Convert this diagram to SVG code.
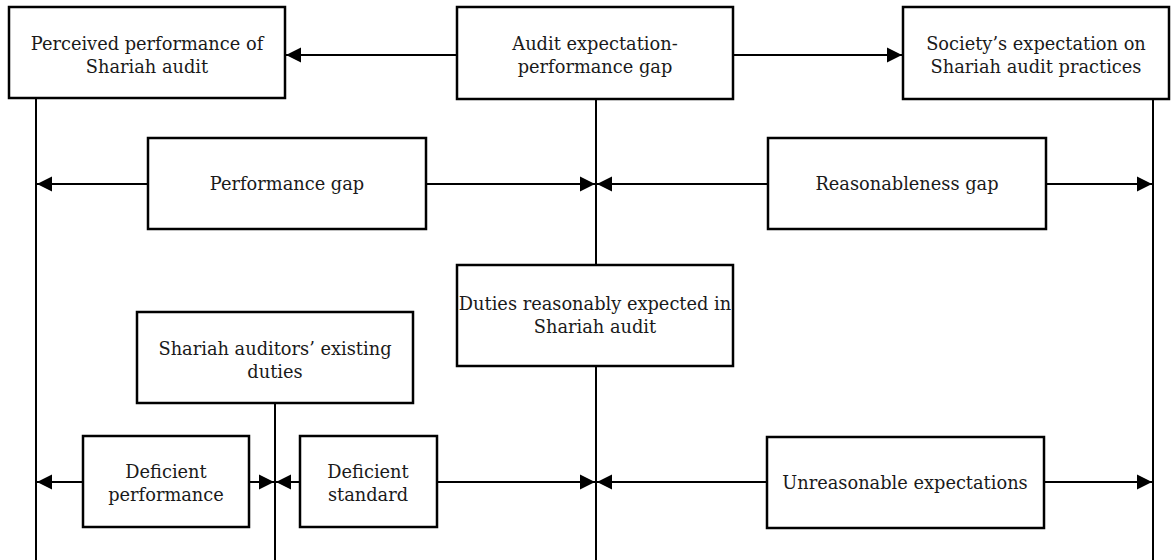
<svg xmlns="http://www.w3.org/2000/svg" width="1171" height="560" viewBox="0 0 1171 560">
<style>
.box{fill:#fff;stroke:#000;stroke-width:2.5}
.ln{fill:none;stroke:#000;stroke-width:2}
text{font-family:"DejaVu Serif","Liberation Serif",serif;font-size:17.8px;fill:#1a1a1a;text-anchor:middle}
</style>
<defs>
<marker id="ah" markerUnits="userSpaceOnUse" markerWidth="16" markerHeight="16" viewBox="0 0 16 16" refX="15" refY="8" orient="auto">
<path d="M0,0.5 L15,8 L0,15.5 Z" fill="#000"/>
</marker>
</defs>
<rect width="1171" height="560" fill="#fff"/>
<g id="connectors">
<line class="ln" x1="36" y1="98" x2="36" y2="560"/>
<line class="ln" x1="596" y1="99" x2="596" y2="265"/>
<line class="ln" x1="596" y1="366" x2="596" y2="560"/>
<line class="ln" x1="1153" y1="99" x2="1153" y2="560"/>
<line class="ln" x1="275" y1="403" x2="275" y2="560"/>
<line class="ln" x1="457" y1="55" x2="286" y2="55" marker-end="url(#ah)"/>
<line class="ln" x1="733" y1="55" x2="902" y2="55" marker-end="url(#ah)"/>
<line class="ln" x1="148" y1="184" x2="37" y2="184" marker-end="url(#ah)"/>
<line class="ln" x1="426" y1="184" x2="595" y2="184" marker-end="url(#ah)"/>
<line class="ln" x1="768" y1="184" x2="597" y2="184" marker-end="url(#ah)"/>
<line class="ln" x1="1046" y1="184" x2="1152" y2="184" marker-end="url(#ah)"/>
<line class="ln" x1="83" y1="482" x2="37" y2="482" marker-end="url(#ah)"/>
<line class="ln" x1="249" y1="482" x2="274" y2="482" marker-end="url(#ah)"/>
<line class="ln" x1="300" y1="482" x2="276" y2="482" marker-end="url(#ah)"/>
<line class="ln" x1="437" y1="482" x2="595" y2="482" marker-end="url(#ah)"/>
<line class="ln" x1="767" y1="482" x2="597" y2="482" marker-end="url(#ah)"/>
<line class="ln" x1="1044" y1="482" x2="1152" y2="482" marker-end="url(#ah)"/>
</g>
<g id="perceived">
<rect class="box" x="9" y="7" width="276" height="91"/>
<text x="147" y="50">Perceived performance of</text>
<text x="147" y="73">Shariah audit</text>
</g>
<g id="audit-gap">
<rect class="box" x="457" y="7" width="276" height="92"/>
<text x="595" y="50">Audit expectation-</text>
<text x="595" y="73">performance gap</text>
</g>
<g id="society">
<rect class="box" x="903" y="7" width="266" height="92"/>
<text x="1036" y="50">Society’s expectation on</text>
<text x="1036" y="73">Shariah audit practices</text>
</g>
<g id="performance-gap">
<rect class="box" x="148" y="138" width="278" height="91"/>
<text x="287" y="190">Performance gap</text>
</g>
<g id="reasonableness-gap">
<rect class="box" x="768" y="138" width="278" height="91"/>
<text x="907" y="190">Reasonableness gap</text>
</g>
<g id="duties-expected">
<rect class="box" x="457" y="265" width="276" height="101"/>
<text x="595" y="310">Duties reasonably expected in</text>
<text x="595" y="333">Shariah audit</text>
</g>
<g id="existing-duties">
<rect class="box" x="137" y="312" width="276" height="91"/>
<text x="275" y="355">Shariah auditors’ existing</text>
<text x="275" y="378">duties</text>
</g>
<g id="deficient-performance">
<rect class="box" x="83" y="436" width="166" height="91"/>
<text x="166" y="478">Deficient</text>
<text x="166" y="501">performance</text>
</g>
<g id="deficient-standard">
<rect class="box" x="300" y="436" width="137" height="91"/>
<text x="368" y="478">Deficient</text>
<text x="368" y="501">standard</text>
</g>
<g id="unreasonable">
<rect class="box" x="767" y="437" width="277" height="91"/>
<text x="905" y="489">Unreasonable expectations</text>
</g>
</svg>
